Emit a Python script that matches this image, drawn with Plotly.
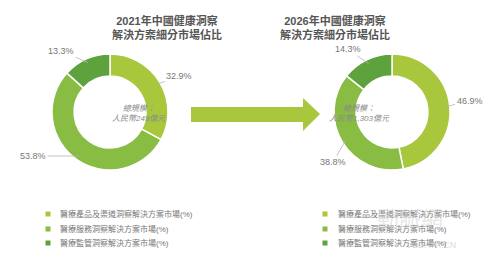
import math
import plotly.graph_objects as go

# ---------------- data ----------------
categories = ["醫療產品及渠道洞察解決方案市場(%)", "醫療服務洞察解決方案市場(%)", "醫療監管洞察解決方案市場(%)"]
share_2021 = [32.9, 53.8, 13.3]
share_2026 = [46.9, 38.8, 14.3]
years = ["2021", "2026"]
totals = ["249", "1,303"]

# ---------------- style ----------------
W, H = 499, 262
colors = ["#a8c73d", "#88bc42", "#5da23d"]
FONT = "Liberation Sans, Arial, Noto Sans CJK TC, sans-serif"
centers = [(110, 112), (392, 112)]
R = 58
label_offsets = [[(23, -8), (-46, 0), (-27, -12)], [(24, -6), (-13, 22), (-21, -14)]]
legend_x = [(48, 58), (325, 336)]
legend_y = [214, 229, 243]


def px(x):
    return x / W


def py(y):
    return 1 - y / H


fig = go.Figure()
annotations = []
shapes = []

for i, vals in enumerate([share_2021, share_2026]):
    cx, cy = centers[i]
    fig.add_trace(go.Pie(
        values=vals, labels=categories,
        domain=dict(x=[px(cx - R), px(cx + R)], y=[py(cy + R), py(cy - R)]),
        hole=0.62, sort=False, direction="clockwise", rotation=0,
        marker=dict(colors=colors, line=dict(color="white", width=1.5)),
        textinfo="none", hoverinfo="label+percent", showlegend=False,
    ))
    # slice labels with leader lines at each slice's mid angle
    total = sum(vals)
    cum = 0
    for j, v in enumerate(vals):
        mid = (cum + v / 2) / total * 2 * math.pi
        cum += v
        r = R * 0.93
        ax_, ay_ = label_offsets[i][j]
        annotations.append(dict(
            x=px(cx + r * math.sin(mid)), y=py(cy - r * math.cos(mid)),
            xref="paper", yref="paper", text=f"{v}%",
            showarrow=True, arrowhead=0, arrowwidth=0.8, arrowcolor="#b5b5b5",
            ax=ax_, ay=ay_, standoff=0,
            font=dict(family=FONT, size=9, color="#777777"),
        ))
    # title
    annotations.append(dict(
        x=px(cx), y=py(12), xref="paper", yref="paper", showarrow=False,
        yanchor="top",
        text=f"<b>{years[i]}年中國健康洞察<br>解決方案細分市場佔比</b>",
        font=dict(family=FONT, size=11, color="#555555"), align="center",
    ))
    # centre text
    annotations.append(dict(
        x=px(cx), y=py(114), xref="paper", yref="paper", showarrow=False,
        text=f"<i>總規模：<br>人民幣{totals[i]}億元</i>",
        font=dict(family=FONT, size=8, color="#8a8a8a"), align="center",
    ))
    # legend
    mx, tx = legend_x[i]
    for j, cat in enumerate(categories):
        yy = legend_y[j]
        shapes.append(dict(type="rect", xref="paper", yref="paper",
                           x0=px(mx - 2.5), x1=px(mx + 2.5), y0=py(yy + 2.5), y1=py(yy - 2.5),
                           fillcolor=colors[j], line=dict(width=0)))
        annotations.append(dict(
            x=px(tx), y=py(yy), xref="paper", yref="paper", showarrow=False,
            xanchor="left", yanchor="middle", text=cat,
            font=dict(family=FONT, size=8, color="#777777"),
        ))

# big arrow between the two donuts
pts = [(191, 107), (303, 107), (303, 98), (320, 114), (303, 131), (303, 122), (191, 122)]
path = "M" + " L".join(f"{px(x):.4f},{py(y):.4f}" for x, y in pts) + " Z"
shapes.append(dict(type="path", xref="paper", yref="paper", path=path,
                   fillcolor="#a8c73d", line=dict(width=0)))

# faint watermark
annotations.append(dict(x=px(445), y=py(234), xref="paper", yref="paper", showarrow=False,
                        text="動脈網", font=dict(family=FONT, size=22, color="rgba(200,200,200,0.45)")))
annotations.append(dict(x=px(458), y=py(252), xref="paper", yref="paper", showarrow=False,
                        text="VBDATA.CN", font=dict(family=FONT, size=9, color="rgba(180,180,180,0.5)")))

fig.update_layout(
    width=W, height=H, margin=dict(l=0, r=0, t=0, b=0),
    paper_bgcolor="white", plot_bgcolor="white",
    annotations=annotations, shapes=shapes, showlegend=False,
)
fig.write_html("out.html")
